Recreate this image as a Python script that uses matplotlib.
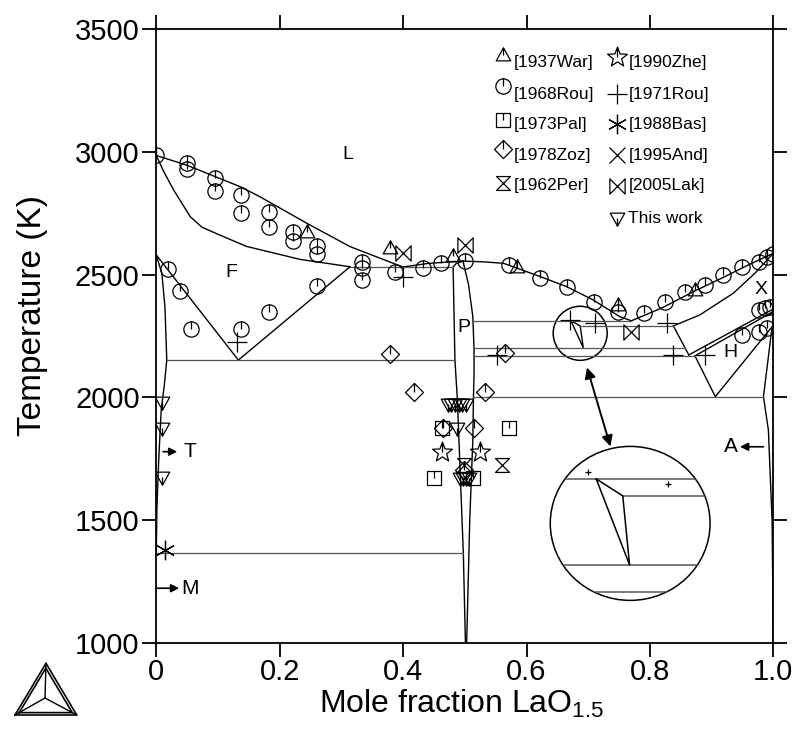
import matplotlib
matplotlib.use("Agg")
import matplotlib.pyplot as plt
from matplotlib.path import Path
from matplotlib.patches import Ellipse
from matplotlib.lines import Line2D

plt.rcParams['font.family'] = ['Liberation Sans', 'DejaVu Sans']
plt.rcParams['mathtext.fontset'] = 'custom'
plt.rcParams['mathtext.rm'] = 'Liberation Sans'

# ---------------- phase boundaries (x = mole fraction LaO1.5, T in K) ----------------
liq_left_x = [0.0, 0.049, 0.136, 0.168, 0.244, 0.314, 0.384, 0.400]
liq_left_T = [2985, 2946, 2858, 2817, 2709, 2614, 2546, 2531]
liq_mid_x = [0.400, 0.439, 0.481, 0.497, 0.530, 0.563, 0.622, 0.665, 0.708, 0.751, 0.770]
liq_mid_T = [2531, 2545, 2553, 2555, 2552, 2546, 2492, 2451, 2397, 2329, 2312]
liq_right_x = [0.770, 0.820, 0.870, 0.920, 0.960, 1.0]
liq_right_T = [2312, 2365, 2430, 2490, 2540, 2587]

sol_f_x = [0.0, 0.012, 0.028, 0.055, 0.074, 0.103, 0.146, 0.233, 0.314]
sol_f_T = [2985, 2920, 2845, 2736, 2693, 2661, 2615, 2562, 2532]
f_left_x = [0.0, 0.133]
f_left_T = [2580, 2152]
f_right_x = [0.133, 0.314]
f_right_T = [2152, 2532]
t_x = [0.0, 0.009, 0.014, 0.017, 0.013, 0.008, 0.004, 0.001, 0.0]
t_T = [2580, 2505, 2369, 2152, 2050, 1950, 1750, 1550, 1366]

p_left_x = [0.497, 0.486, 0.481, 0.484, 0.488, 0.4976, 0.501]
p_left_T = [2555, 2545, 2531, 2152, 1989, 1366, 1000]
p_right_x = [0.497, 0.506, 0.513, 0.515, 0.515, 0.514, 0.513, 0.508, 0.503]
p_right_T = [2555, 2460, 2329, 2193, 2100, 2003, 1827, 1500, 1000]

tri_x = [0.672, 0.687, 0.692, 0.672]
tri_T = [2312, 2291, 2202, 2312]

xsol_x = [0.838, 0.881, 0.935, 0.970, 1.0]
xsol_T = [2291, 2336, 2424, 2505, 2587]
xlow_x = [0.838, 0.863]
xlow_T = [2291, 2173]
h_up1_x = [0.863, 1.0]
h_up1_T = [2173, 2360]
h_up2_x = [0.873, 1.0]
h_up2_T = [2169, 2350]
h_low_x = [0.873, 0.906, 0.998]
h_low_T = [2169, 2003, 2288]
a_x = [0.998, 0.984, 0.992, 0.998, 1.0]
a_T = [2288, 2003, 1867, 1500, 1000]

# invariant reactions: temperature and composition range
inv_T = [2531, 2152, 1366, 2312, 2291, 2202, 2169, 2003]
inv_x0 = [0.314, 0.017, 0.0, 0.514, 0.687, 0.515, 0.515, 0.514]
inv_x1 = [0.481, 0.484, 0.4976, 0.770, 0.838, 0.857, 0.873, 0.984]

# enlarged detail of the region around x = 0.69
zoom_T = [1668, 1599, 1318, 1209]
zoom_x0 = [0.60, 0.756, 0.60, 0.60]
zoom_x1 = [0.95, 0.95, 0.95, 0.95]
zoom_tri_x = [0.713, 0.756, 0.767, 0.713]
zoom_tri_T = [1668, 1599, 1318, 1668]
zoom_plus_x = [0.700, 0.830]
zoom_plus_T = [1698, 1647]

# ---------------- experimental data ----------------
war_x = [0.244, 0.379, 0.481, 0.584, 0.749, 0.873]
war_T = [2675, 2607, 2575, 2532, 2376, 2437]
rou68_x = [0.0, 0.049, 0.049, 0.095, 0.095, 0.138, 0.138, 0.182, 0.182, 0.222, 0.222,
           0.260, 0.260, 0.333, 0.333, 0.333, 0.387, 0.433, 0.461, 0.500, 0.571, 0.622,
           0.666, 0.709, 0.749, 0.790, 0.825, 0.857, 0.890, 0.919, 0.949, 0.976, 0.990,
           1.0, 0.019, 0.038, 0.057, 0.138, 0.182, 0.260, 0.976, 0.987, 0.995, 0.949,
           0.976, 0.990]
rou68_T = [2985, 2953, 2929, 2892, 2841, 2824, 2750, 2756, 2693, 2675, 2637,
           2617, 2583, 2553, 2526, 2478, 2512, 2526, 2546, 2557, 2539, 2485,
           2451, 2390, 2349, 2342, 2390, 2431, 2458, 2498, 2532, 2553, 2573,
           2585, 2522, 2433, 2277, 2277, 2349, 2454, 2356, 2363, 2370, 2254,
           2268, 2281]
pal_x = [0.463, 0.572, 0.450, 0.514]
pal_T = [1874, 1874, 1673, 1673]
zoz_x = [0.378, 0.417, 0.533, 0.465, 0.515, 0.498, 0.565]
zoz_T = [2177, 2023, 2023, 1874, 1874, 1705, 2180]
per_x = [0.498, 0.561]
per_T = [1725, 1725]
zhe_x = [0.463, 0.525]
zhe_T = [1779, 1779]
rou71_x = [0.130, 0.400, 0.671, 0.711, 0.827, 0.552, 0.838, 0.889]
rou71_T = [2227, 2491, 2315, 2302, 2302, 2173, 2173, 2173]
bas_x = [0.014]
bas_T = [1379]
lak_x = [0.400, 0.500, 0.770]
lak_T = [2589, 2621, 2268]
this_x = [0.009, 0.009, 0.009, 0.472, 0.478, 0.484, 0.490, 0.496, 0.502, 0.487,
          0.492, 0.497, 0.502, 0.506]
this_T = [1983, 1874, 1677, 1975, 1975, 1975, 1975, 1975, 1975, 1874,
          1672, 1672, 1672, 1672]

# ---------------- marker shapes ----------------
def with_tick(path, y0=0.0, y1=1.0):
    tick = Path([(0, y0), (0, y1)], [Path.MOVETO, Path.LINETO])
    return Path.make_compound_path(path, tick)

circ = with_tick(Path.unit_circle())
square = with_tick(Path([(-1, -1), (1, -1), (1, 1), (-1, 1), (-1, -1)],
                        [1, 2, 2, 2, 79]))
diamond = with_tick(Path([(0, -1.25), (1.25, 0), (0, 1.25), (-1.25, 0), (0, -1.25)],
                         [1, 2, 2, 2, 79]), 0, 1.25)
tri_up = with_tick(Path([(0, 1), (-0.95, -0.7), (0.95, -0.7), (0, 1)], [1, 2, 2, 79]), 0, 1)
tri_dn = with_tick(Path([(0, -1), (-0.95, 0.7), (0.95, 0.7), (0, -1)], [1, 2, 2, 79]), 0, -1)
hourglass = Path([(-1, 1), (1, 1), (-1, -1), (1, -1), (-1, 1)], [1, 2, 2, 2, 79])
bowtie = Path([(-1, 1), (-1, -1), (1, 1), (1, -1), (-1, 1)], [1, 2, 2, 2, 79])
star = with_tick(Path.unit_regular_star(5, 0.42), 0, 0.8)
aster = (6, 2, 0)

series = [
    (war_x, war_T, tri_up, 11, '[1937War]'),
    (rou68_x, rou68_T, circ, 11, '[1968Rou]'),
    (pal_x, pal_T, square, 10, '[1973Pal]'),
    (zoz_x, zoz_T, diamond, 13, '[1978Zoz]'),
    (per_x, per_T, hourglass, 10, '[1962Per]'),
    (zhe_x, zhe_T, star, 15, '[1990Zhe]'),
    (rou71_x, rou71_T, '+', 14, '[1971Rou]'),
    (bas_x, bas_T, aster, 14, '[1988Bas]'),
    ([], [], 'x', 12, '[1995And]'),
    (lak_x, lak_T, bowtie, 11, '[2005Lak]'),
    (this_x, this_T, tri_dn, 11, 'This work'),
]

fig = plt.figure(figsize=(7.97, 7.31), dpi=100)
ax = fig.add_axes([0.1961, 0.1204, 0.7742, 0.8399])
ax.set_xlim(0, 1)
ax.set_ylim(1000, 3500)

lk = dict(color='black', lw=1.0, solid_joinstyle='miter')
for xs, ts in [(liq_left_x, liq_left_T), (liq_mid_x, liq_mid_T), (liq_right_x, liq_right_T),
               (sol_f_x, sol_f_T), (f_left_x, f_left_T), (f_right_x, f_right_T),
               (t_x, t_T), (p_left_x, p_left_T), (p_right_x, p_right_T),
               (tri_x, tri_T), (xsol_x, xsol_T), (xlow_x, xlow_T),
               (h_up1_x, h_up1_T), (h_up2_x, h_up2_T), (h_low_x, h_low_T), (a_x, a_T)]:
    ax.plot(xs, ts, **lk)

for T, x0, x1 in zip(inv_T, inv_x0, inv_x1):
    ax.plot([x0, x1], [T, T], color='#555555', lw=0.9)

# experimental points
for xs, ts, mk, ms, lab in series:
    ax.plot(xs, ts, ls='none', marker=mk, ms=ms, mfc='none', mec='black', mew=0.9)

# magnifier circle and enlarged view
ax.add_patch(Ellipse((0.687, 2261), 0.0875, 220, fill=False, ec='black', lw=1.1))
big = Ellipse((0.768, 1487), 0.259, 627, fill=False, ec='black', lw=1.1)
ax.add_patch(big)
for T, x0, x1 in zip(zoom_T, zoom_x0, zoom_x1):
    ln, = ax.plot([x0, x1], [T, T], color='#555555', lw=1.1)
    ln.set_clip_path(big)
ax.plot(zoom_tri_x, zoom_tri_T, color='black', lw=1.1)
ax.plot(zoom_plus_x, zoom_plus_T, ls='none', marker='+', ms=5, mec='black', mew=0.9)
ax.annotate('', xy=(0.698, 2122), xytext=(0.736, 1800),
            arrowprops=dict(arrowstyle='<|-|>', color='black', lw=1.4,
                            mutation_scale=16, shrinkA=0, shrinkB=0))

# phase labels
lab_kw = dict(fontsize=14, ha='center', va='center')
ax.text(0.311, 2990, 'L', **lab_kw)
ax.text(0.121, 2510, 'F', **lab_kw)
ax.text(0.499, 2285, 'P', **lab_kw)
ax.text(0.980, 2440, 'X', **lab_kw)
ax.text(0.930, 2183, 'H', **lab_kw)
arrow_kw = dict(arrowstyle='-|>', color='black', lw=1.2, mutation_scale=12, shrinkA=0, shrinkB=0)
ax.annotate('', xy=(0.034, 1779), xytext=(0.011, 1779), arrowprops=arrow_kw)
ax.text(0.044, 1779, 'T', fontsize=15, ha='left', va='center')
ax.annotate('', xy=(0.037, 1223), xytext=(0.0, 1223), arrowprops=arrow_kw)
ax.text(0.041, 1223, 'M', fontsize=15, ha='left', va='center')
ax.annotate('', xy=(0.946, 1799), xytext=(0.984, 1799), arrowprops=arrow_kw)
ax.text(0.943, 1799, 'A', fontsize=15, ha='right', va='center')

# legend drawn in axes coordinates
row_y = [0.946, 0.894, 0.845, 0.794, 0.745, 0.692]
col1_dy = [0.012, 0.014, 0.007, 0.010, 0.004]
for i, (xs, ts, mk, ms, lab) in enumerate(series):
    if i < 5:
        mx, tx, my = 0.562, 0.579, row_y[i] + col1_dy[i]
        ty = row_y[i]
    else:
        j = i - 5
        mx, tx, my = 0.746, 0.765, row_y[j] + (0.008 if j == 0 else 0.0)
        ty = row_y[j]
    ax.plot([mx], [my], transform=ax.transAxes, ls='none', marker=mk, ms=ms,
            mfc='none', mec='black', mew=0.9, clip_on=False)
    ax.text(tx, ty, lab, transform=ax.transAxes, fontsize=12.5, ha='left', va='center')

# axes styling
for s in ax.spines.values():
    s.set_linewidth(1.3)
ax.set_xticks([0, 0.2, 0.4, 0.6, 0.8, 1.0])
ax.set_xticklabels(['0', '0.2', '0.4', '0.6', '0.8', '1.0'])
ax.set_yticks([1000, 1500, 2000, 2500, 3000, 3500])
ax.tick_params(direction='out', length=10, width=1.3, top=True, right=True,
               labeltop=False, labelright=False, labelsize=21, pad=2)
ax.tick_params(axis='x', pad=0.5)
ax.text(-0.201, 0.534, 'Temperature (K)', transform=ax.transAxes, rotation=90,
        fontsize=24, ha='center', va='center')
ax.text(0.494, -0.099, 'Mole fraction LaO$_{\\mathregular{1.5}}$', transform=ax.transAxes,
        fontsize=23, ha='center', va='center')

# software logo
def fpt(px, py):
    return px / 797.0, 1 - py / 731.0

logo_outer = [(15, 715), (76.7, 715), (46, 663.3), (15, 715)]
cx, cy = 45, 698
logo_inner = [(cx + (x - cx) * 0.86, cy + (y - cy) * 0.86) for x, y in logo_outer]
for pts in (logo_outer, logo_inner):
    fx, fy = zip(*[fpt(*p) for p in pts])
    fig.add_artist(Line2D(fx, fy, color='black', lw=1.2, transform=fig.transFigure))
for vx, vy in logo_outer[:3]:
    fx, fy = zip(fpt(cx, cy), fpt(vx, vy))
    fig.add_artist(Line2D(fx, fy, color='black', lw=1.0, transform=fig.transFigure))

fig.savefig('out.png', dpi=100)
